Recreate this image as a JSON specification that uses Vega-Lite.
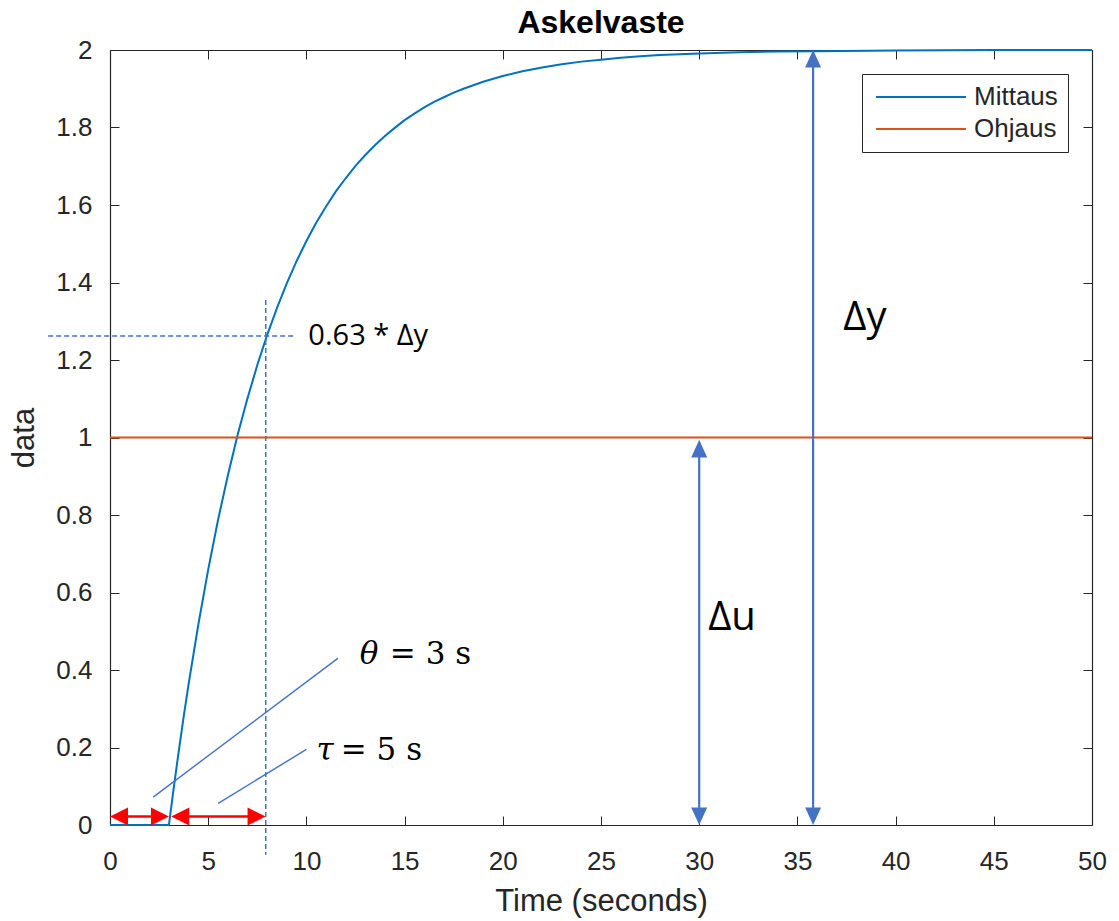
{
  "$schema": "https://vega.github.io/schema/vega-lite/v6.json",
  "width": 982,
  "height": 775,
  "autosize": {"type": "none"},
  "padding": {"left": 110, "top": 50, "right": 27, "bottom": 96},
  "background": "white",
  "config": {"view": {"stroke": null}},
  "title": {"text": "Askelvaste", "font": "Liberation Sans", "fontSize": 32, "fontWeight": "bold", "color": "#000000", "anchor": "middle", "frame": "group", "baseline": "alphabetic", "offset": 15, "dy": 43},
  "resolve": {"axis": {"x": "independent", "y": "independent"}},
  "layer": [
    {
      "data": {"values": [
        {"t": 0, "value": 0, "series": "Mittaus"},
        {"t": 3, "value": 0, "series": "Mittaus"},
        {"t": 3.25, "value": 0.098, "series": "Mittaus"},
        {"t": 3.5, "value": 0.190, "series": "Mittaus"},
        {"t": 3.75, "value": 0.279, "series": "Mittaus"},
        {"t": 4, "value": 0.363, "series": "Mittaus"},
        {"t": 4.5, "value": 0.518, "series": "Mittaus"},
        {"t": 5, "value": 0.659, "series": "Mittaus"},
        {"t": 5.5, "value": 0.787, "series": "Mittaus"},
        {"t": 6, "value": 0.902, "series": "Mittaus"},
        {"t": 6.5, "value": 1.007, "series": "Mittaus"},
        {"t": 7, "value": 1.101, "series": "Mittaus"},
        {"t": 7.5, "value": 1.187, "series": "Mittaus"},
        {"t": 8, "value": 1.264, "series": "Mittaus"},
        {"t": 8.5, "value": 1.334, "series": "Mittaus"},
        {"t": 9, "value": 1.398, "series": "Mittaus"},
        {"t": 9.5, "value": 1.455, "series": "Mittaus"},
        {"t": 10, "value": 1.507, "series": "Mittaus"},
        {"t": 10.5, "value": 1.554, "series": "Mittaus"},
        {"t": 11, "value": 1.596, "series": "Mittaus"},
        {"t": 11.5, "value": 1.635, "series": "Mittaus"},
        {"t": 12, "value": 1.669, "series": "Mittaus"},
        {"t": 12.5, "value": 1.701, "series": "Mittaus"},
        {"t": 13, "value": 1.729, "series": "Mittaus"},
        {"t": 13.5, "value": 1.755, "series": "Mittaus"},
        {"t": 14, "value": 1.778, "series": "Mittaus"},
        {"t": 14.5, "value": 1.799, "series": "Mittaus"},
        {"t": 15, "value": 1.819, "series": "Mittaus"},
        {"t": 15.5, "value": 1.836, "series": "Mittaus"},
        {"t": 16, "value": 1.852, "series": "Mittaus"},
        {"t": 16.5, "value": 1.866, "series": "Mittaus"},
        {"t": 17, "value": 1.878, "series": "Mittaus"},
        {"t": 17.5, "value": 1.890, "series": "Mittaus"},
        {"t": 18, "value": 1.900, "series": "Mittaus"},
        {"t": 19, "value": 1.918, "series": "Mittaus"},
        {"t": 20, "value": 1.933, "series": "Mittaus"},
        {"t": 21, "value": 1.945, "series": "Mittaus"},
        {"t": 22, "value": 1.955, "series": "Mittaus"},
        {"t": 23, "value": 1.963, "series": "Mittaus"},
        {"t": 24, "value": 1.970, "series": "Mittaus"},
        {"t": 25, "value": 1.975, "series": "Mittaus"},
        {"t": 26, "value": 1.980, "series": "Mittaus"},
        {"t": 27, "value": 1.984, "series": "Mittaus"},
        {"t": 28, "value": 1.987, "series": "Mittaus"},
        {"t": 30, "value": 1.991, "series": "Mittaus"},
        {"t": 32, "value": 1.994, "series": "Mittaus"},
        {"t": 34, "value": 1.996, "series": "Mittaus"},
        {"t": 36, "value": 1.997, "series": "Mittaus"},
        {"t": 40, "value": 1.999, "series": "Mittaus"},
        {"t": 45, "value": 2.0, "series": "Mittaus"},
        {"t": 50, "value": 2.0, "series": "Mittaus"},
        {"t": 0, "value": 1, "series": "Ohjaus"},
        {"t": 50, "value": 1, "series": "Ohjaus"}
      ]},
      "mark": {"type": "line", "strokeWidth": 2},
      "encoding": {
        "x": {"field": "t", "type": "quantitative", "scale": {"domain": [0, 50], "nice": false, "zero": false},
          "axis": {"orient": "bottom", "values": [0, 5, 10, 15, 20, 25, 30, 35, 40, 45, 50], "format": "d", "grid": false,
            "tickSize": -9, "tickColor": "#262626", "tickWidth": 1, "domainColor": "#262626", "domainWidth": 1.2,
            "labelFont": "Liberation Sans", "labelFontSize": 26, "labelColor": "#262626", "labelPadding": 32, "labelFlush": false,
            "title": "Time (seconds)", "titleFont": "Liberation Sans", "titleFontSize": 31, "titleFontWeight": "normal", "titleColor": "#262626", "titlePadding": 12}},
        "y": {"field": "value", "type": "quantitative", "scale": {"domain": [0, 2], "nice": false, "zero": false},
          "axis": {"orient": "left", "values": [0, 0.2, 0.4, 0.6, 0.8, 1, 1.2, 1.4, 1.6, 1.8, 2], "format": ".1~f", "grid": false,
            "tickSize": -9, "tickColor": "#262626", "tickWidth": 1, "domainColor": "#262626", "domainWidth": 1.2,
            "labelFont": "Liberation Sans", "labelFontSize": 26, "labelColor": "#262626", "labelPadding": 27, "labelFlush": false,
            "title": "data", "titleFont": "Liberation Sans", "titleFontSize": 31, "titleFontWeight": "normal", "titleColor": "#262626", "titlePadding": 15}},
        "color": {"field": "series", "type": "nominal",
          "scale": {"domain": ["Mittaus", "Ohjaus"], "range": ["#0072BD", "#D95319"]},
          "legend": {"orient": "top-right", "offset": 24, "title": null, "symbolType": "M -1 0 L 9 0", "symbolSize": 324, "symbolStrokeWidth": 2,
            "labelOffset": 76, "labelFont": "Liberation Sans", "labelFontSize": 26, "labelColor": "#262626",
            "strokeColor": "#262626", "fillColor": "white", "padding": 10, "rowPadding": 6}}
      }
    },
    {
      "data": {"values": [
        {"x1": -3.15, "x2": 9.4, "y1": 1.262, "y2": 1.262},
        {"x1": 7.93, "x2": 7.93, "y1": 1.355, "y2": -0.077}
      ]},
      "mark": {"type": "rule", "color": "#4472C4", "strokeWidth": 1.5, "strokeDash": [5, 3]},
      "encoding": {
        "x": {"field": "x1", "type": "quantitative", "scale": {"domain": [0, 50], "nice": false, "zero": false},
          "axis": {"orient": "top", "values": [0, 5, 10, 15, 20, 25, 30, 35, 40, 45, 50], "labels": false, "grid": false, "title": null,
            "tickSize": -9, "tickColor": "#262626", "tickWidth": 1, "domainColor": "#262626", "domainWidth": 1.2}},
        "x2": {"field": "x2"},
        "y": {"field": "y1", "type": "quantitative", "scale": {"domain": [0, 2], "nice": false, "zero": false},
          "axis": {"orient": "right", "values": [0, 0.2, 0.4, 0.6, 0.8, 1, 1.2, 1.4, 1.6, 1.8, 2], "labels": false, "grid": false, "title": null,
            "tickSize": -9, "tickColor": "#262626", "tickWidth": 1, "domainColor": "#262626", "domainWidth": 1.2}},
        "y2": {"field": "y2"}
      }
    },
    {
      "data": {"values": [
        {"x1": 2.2, "x2": 11.6, "y1": 0.072, "y2": 0.43},
        {"x1": 5.51, "x2": 10.0, "y1": 0.056, "y2": 0.195}
      ]},
      "mark": {"type": "rule", "color": "#4472C4", "strokeWidth": 1.4},
      "encoding": {
        "x": {"field": "x1", "type": "quantitative", "scale": {"domain": [0, 50], "nice": false, "zero": false}, "axis": null},
        "x2": {"field": "x2"},
        "y": {"field": "y1", "type": "quantitative", "scale": {"domain": [0, 2], "nice": false, "zero": false}, "axis": null},
        "y2": {"field": "y2"}
      }
    },
    {
      "data": {"values": [
        {"x1": 0.3, "x2": 2.7, "y": 0.022},
        {"x1": 3.4, "x2": 7.6, "y": 0.022}
      ]},
      "mark": {"type": "rule", "color": "#FF0000", "strokeWidth": 2.5},
      "encoding": {
        "x": {"field": "x1", "type": "quantitative", "scale": {"domain": [0, 50], "nice": false, "zero": false}, "axis": null},
        "x2": {"field": "x2"},
        "y": {"field": "y", "type": "quantitative", "scale": {"domain": [0, 2], "nice": false, "zero": false}, "axis": null}
      }
    },
    {
      "data": {"values": [
        {"x": 0, "y": 0.022, "dir": "left"},
        {"x": 3.0, "y": 0.022, "dir": "right"},
        {"x": 3.12, "y": 0.022, "dir": "left"},
        {"x": 7.92, "y": 0.022, "dir": "right"}
      ]},
      "mark": {"type": "point", "filled": true, "color": "#FF0000", "opacity": 1, "size": 324, "strokeWidth": 0},
      "encoding": {
        "x": {"field": "x", "type": "quantitative", "scale": {"domain": [0, 50], "nice": false, "zero": false}, "axis": null},
        "y": {"field": "y", "type": "quantitative", "scale": {"domain": [0, 2], "nice": false, "zero": false}, "axis": null},
        "shape": {"field": "dir", "type": "nominal", "scale": {"domain": ["left", "right", "up", "down"], "range": ["M 0 0 L 2 -1 L 2 1 Z", "M 0 0 L -2 -1 L -2 1 Z", "M 0 0 L -1 2.2 L 1 2.2 Z", "M 0 0 L -1 -2.2 L 1 -2.2 Z"]}, "legend": null}
      }
    },
    {
      "data": {"values": [
        {"x": 30.0, "y1": 0.02, "y2": 0.97},
        {"x": 35.8, "y1": 0.02, "y2": 1.97}
      ]},
      "mark": {"type": "rule", "color": "#4472C4", "strokeWidth": 2.2},
      "encoding": {
        "x": {"field": "x", "type": "quantitative", "scale": {"domain": [0, 50], "nice": false, "zero": false}, "axis": null},
        "y": {"field": "y1", "type": "quantitative", "scale": {"domain": [0, 2], "nice": false, "zero": false}, "axis": null},
        "y2": {"field": "y2"}
      }
    },
    {
      "data": {"values": [
        {"x": 30.0, "y": 0.994, "dir": "up"},
        {"x": 30.0, "y": 0.0, "dir": "down"},
        {"x": 35.8, "y": 2.0, "dir": "up"},
        {"x": 35.8, "y": 0.0, "dir": "down"}
      ]},
      "mark": {"type": "point", "filled": true, "color": "#4472C4", "opacity": 1, "size": 256, "strokeWidth": 0},
      "encoding": {
        "x": {"field": "x", "type": "quantitative", "scale": {"domain": [0, 50], "nice": false, "zero": false}, "axis": null},
        "y": {"field": "y", "type": "quantitative", "scale": {"domain": [0, 2], "nice": false, "zero": false}, "axis": null},
        "shape": {"field": "dir", "type": "nominal", "scale": {"domain": ["left", "right", "up", "down"], "range": ["M 0 0 L 2 -1 L 2 1 Z", "M 0 0 L -2 -1 L -2 1 Z", "M 0 0 L -1 2.2 L 1 2.2 Z", "M 0 0 L -1 -2.2 L 1 -2.2 Z"]}, "legend": null}
      }
    },
    {
      "data": {"values": [
        {"x": 10.1, "y": 1.262, "label": "0.63 * Δy"}
      ]},
      "mark": {"type": "text", "font": "Open Sans", "fontSize": 29, "color": "#000000", "align": "left", "baseline": "middle"},
      "encoding": {
        "x": {"field": "x", "type": "quantitative", "scale": {"domain": [0, 50], "nice": false, "zero": false}, "axis": null},
        "y": {"field": "y", "type": "quantitative", "scale": {"domain": [0, 2], "nice": false, "zero": false}, "axis": null},
        "text": {"field": "label"}
      }
    },
    {
      "data": {"values": [
        {"x": 31.67, "y": 0.534, "label": "Δu"},
        {"x": 38.44, "y": 1.308, "label": "Δy"}
      ]},
      "mark": {"type": "text", "font": "Open Sans", "fontSize": 40, "color": "#000000", "align": "center", "baseline": "middle"},
      "encoding": {
        "x": {"field": "x", "type": "quantitative", "scale": {"domain": [0, 50], "nice": false, "zero": false}, "axis": null},
        "y": {"field": "y", "type": "quantitative", "scale": {"domain": [0, 2], "nice": false, "zero": false}, "axis": null},
        "text": {"field": "label"}
      }
    },
    {
      "data": {"values": [
        {"x": 13.19, "y": 0.439, "label": "θ"},
        {"x": 10.95, "y": 0.19, "label": "τ"}
      ]},
      "mark": {"type": "text", "font": "DejaVu Serif", "fontSize": 31, "fontStyle": "italic", "color": "#000000", "align": "center", "baseline": "middle"},
      "encoding": {
        "x": {"field": "x", "type": "quantitative", "scale": {"domain": [0, 50], "nice": false, "zero": false}, "axis": null},
        "y": {"field": "y", "type": "quantitative", "scale": {"domain": [0, 2], "nice": false, "zero": false}, "axis": null},
        "text": {"field": "label"}
      }
    },
    {
      "data": {"values": [
        {"x": 14.25, "y": 0.439, "label": "= 3 s"},
        {"x": 11.75, "y": 0.19, "label": "= 5 s"}
      ]},
      "mark": {"type": "text", "font": "DejaVu Serif", "fontSize": 31, "color": "#000000", "align": "left", "baseline": "middle"},
      "encoding": {
        "x": {"field": "x", "type": "quantitative", "scale": {"domain": [0, 50], "nice": false, "zero": false}, "axis": null},
        "y": {"field": "y", "type": "quantitative", "scale": {"domain": [0, 2], "nice": false, "zero": false}, "axis": null},
        "text": {"field": "label"}
      }
    }
  ]
}
